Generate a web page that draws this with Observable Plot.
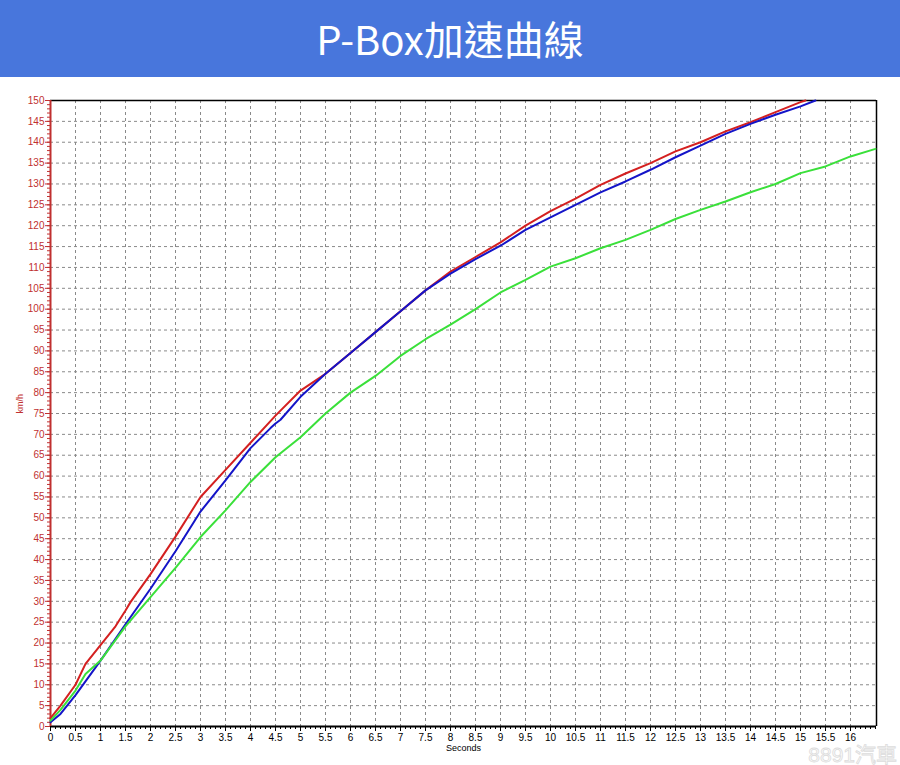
<!DOCTYPE html>
<html>
<head>
<meta charset="utf-8">
<script src="https://cdn.jsdelivr.net/npm/d3@7"></script>
<script src="https://cdn.jsdelivr.net/npm/@observablehq/plot@0.6"></script>
<style>
  html, body { margin: 0; padding: 0; background: #fff; }
  #wrap { position: relative; width: 900px; height: 765px; overflow: hidden; }
  #banner { height: 77px; background: #4876dc; color: #fff; text-align: center;
    font-family: "Noto Sans CJK TC", "Noto Sans", sans-serif; font-size: 40px; line-height: 77px; }
  #wm { position: absolute; right: 3px; top: 744px; height: 21px; line-height: 21px; font-family: "Liberation Sans", "Noto Sans CJK TC", sans-serif;
    font-size: 21px; color: #fbfbfb; -webkit-text-stroke: 0.8px #dcdcdc; white-space: nowrap; }
</style>
</head>
<body>
<div id="wrap">
  <div id="banner">P-Box加速曲線</div>
  <div id="chart"></div>
  <div id="wm">8891汽車</div>
</div>
<script>
// Series data (seconds, km/h)
const redT = [0,0.2,0.5,0.7,1,1.3,1.5,1.6,2,2.5,3,3.5,4,4.5,5,5.5,6,6.5,7,7.5,8,8.5,9,9.5,10,10.5,11,11.5,12,12.5,13,13.5,14,14.5,15,15.1];
const redV = [2,5,10,15,19.5,24,27.8,29.8,36.5,45.5,55,61.5,68,74.5,80.5,84.5,89.5,94.5,99.5,104.5,109,112.5,116,120,123.5,126.5,129.8,132.5,135,137.8,140,142.6,144.8,147.2,149.6,150];

const blueT = [0,0.2,0.5,1,1.5,2,2.5,3,3.5,4,4.4,4.5,4.6,5,5.5,6,6.5,7,7.5,8,8.5,9,9.5,10,10.5,11,11.5,12,12.5,13,13.5,14,14.5,15,15.3];
const blueV = [1,3,7.5,15.8,24.5,33,42,51.5,59,66.7,71.5,72.6,73.5,79,84.5,89.5,94.5,99.5,104.5,108.5,112,115.2,119,122,125,128,130.6,133.4,136.4,139.2,142,144.4,146.6,148.6,150];

const greenT = [0,0.2,0.5,0.7,1,1.5,2,2.5,3,3.5,4,4.5,5,5.5,6,6.5,7,7.5,8,8.5,9,9.5,10,10.5,11,11.5,12,12.5,13,13.5,14,14.5,15,15.5,16,16.5];
const greenV = [1.4,4,8.6,12.6,15.8,24,31,38,45.4,51.8,58.6,64.5,69.3,75,80,84,88.8,92.8,96.3,100,104,107,110.2,112.2,114.6,116.6,119,121.6,123.8,125.8,128,130,132.6,134.2,136.6,138.4];

// Tick definitions
const xMajor = d3.range(0, 16.01, 0.5);
const xMinor = d3.range(0, 16.51, 0.1);
const yMajor = d3.range(0, 151, 5);
const yMinor = d3.range(0, 151, 1);
const xLabel = "Seconds";
const yLabel = "km/h";

const series = [
  {name: "Run A", t: redT, v: redV, color: "#d42020"},
  {name: "Run B", t: blueT, v: blueV, color: "#1414c8"},
  {name: "Run C", t: greenT, v: greenV, color: "#3ae03a"}
];
const rows = series.flatMap(s => s.t.map((t, i) => ({t, v: s.v[i], s: s.name})));

const xMax = 16.52;
const font = "Liberation Sans, Arial, sans-serif";

const chart = Plot.plot({
  width: 900,
  height: 688,
  marginTop: 23,
  marginBottom: 39,
  marginLeft: 50,
  marginRight: 24,
  style: {fontFamily: font, fontSize: "10px", background: "#fff", overflow: "visible"},
  x: {domain: [0, xMax], label: null},
  y: {domain: [0, 150], label: null},
  color: {type: "ordinal", domain: series.map(s => s.name), range: series.map(s => s.color)},
  marks: [
    Plot.ruleX(xMajor.filter(d => d > 0), {stroke: "#8a8a8a", strokeDasharray: "3,3", strokeWidth: 1, strokeOpacity: 1}),
    Plot.ruleY(yMajor.filter(d => d > 0), {stroke: "#8a8a8a", strokeDasharray: "3,3", strokeWidth: 1, strokeOpacity: 1}),
    // minor ticks
    Plot.axisX({ticks: xMinor, tickSize: 3, text: null, stroke: "#000", label: null}),
    Plot.axisY({ticks: yMinor, tickSize: 3, text: null, stroke: "#c03030", label: null}),
    // major ticks and labels
    Plot.axisX({ticks: xMajor, tickSize: 5, tickPadding: 2, tickFormat: d => String(d), fill: "#000", stroke: "#000", label: null}),
    Plot.axisY({ticks: yMajor, tickSize: 5, tickPadding: 1, tickFormat: d => String(d), fill: "#c03030", stroke: "#c03030", label: null}),
    // frame
    Plot.ruleY([150], {stroke: "#000", strokeWidth: 1.5}),
    Plot.ruleX([xMax], {stroke: "#000", strokeWidth: 1.5}),
    Plot.ruleY([0], {stroke: "#000", strokeWidth: 2}),
    Plot.ruleX([0], {stroke: "#c03030", strokeWidth: 2}),
    // data lines
    Plot.line(rows, {x: "t", y: "v", z: "s", stroke: "s", strokeWidth: 2, curve: "linear"}),
    // axis labels
    Plot.text([xLabel], {text: d => d, frameAnchor: "bottom", dy: 24, fill: "#000", fontSize: 9}),
    Plot.text([yLabel], {text: d => d, frameAnchor: "left", dx: -30, rotate: -90, fill: "#c03030", fontSize: 9})
  ]
});
document.getElementById("chart").appendChild(chart);
</script>
</body>
</html>
